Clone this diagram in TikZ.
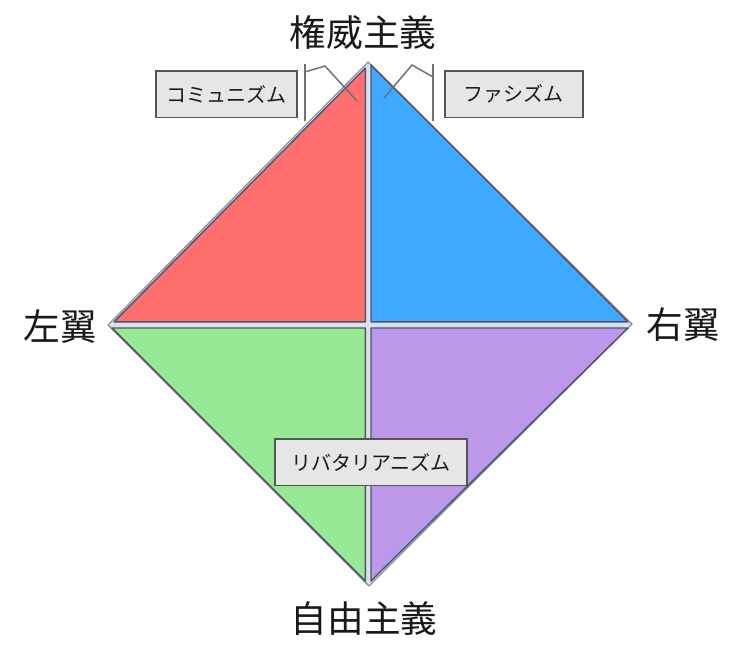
\documentclass[tikz,border=0pt]{standalone}
\usepackage{fontspec}
\newfontfamily\jp{Noto Sans CJK JP}
\definecolor{edge}{HTML}{4A5670}
\definecolor{gapc}{HTML}{DCE1E8}
\definecolor{redf}{HTML}{FF6F6F}
\definecolor{bluef}{HTML}{3FA8FF}
\definecolor{greenf}{HTML}{98E895}
\definecolor{purplef}{HTML}{BC98EA}
\definecolor{boxf}{HTML}{E7E6E6}
\definecolor{boxd}{HTML}{555555}
\definecolor{brk}{HTML}{707070}
\tikzset{
  tri/.style={draw=edge, line width=1.1pt, line join=round},
  bigtext/.style={font=\jp\fontsize{27.5}{31}\selectfont, text=black!90, inner sep=0pt},
  tagbox/.style={draw=boxd, fill=boxf, line width=1.2pt, font=\jp\fontsize{15}{18}\selectfont, text=black!90, minimum height=35pt, inner sep=0pt, anchor=north west},
  brline/.style={draw=brk, line width=1.1pt}
}
\begin{document}
\begin{tikzpicture}[x=0.75pt,y=-0.75pt]
\useasboundingbox (0,0) rectangle (750,666);
% outer diamond
\coordinate (T) at (368,62);
\coordinate (L) at (108,325);
\coordinate (R) at (632,324);
\coordinate (B) at (369,586);
\filldraw[fill=gapc, draw=edge!70, line width=0.8pt, line join=round] (T) -- (R) -- (B) -- (L) -- cycle;
% triangles
\filldraw[tri, fill=redf] (365.3,68) -- (114,321.8) -- (365.3,321.8) -- cycle;
\filldraw[tri, fill=bluef] (371,65) -- (628,321.8) -- (371,321.8) -- cycle;
\filldraw[tri, fill=greenf] (365.3,328) -- (112,328) -- (365.3,581) -- cycle;
\filldraw[tri, fill=purplef] (371,328) -- (628,328) -- (371,581) -- cycle;
% labels
\node[bigtext] (auth) at (363,33) {権威主義};
\node[bigtext] (left) at (60,327) {左翼};
\node[bigtext] (right) at (683,325) {右翼};
\node[bigtext] (lib) at (364,619) {自由主義};
% boxes
\node[tagbox, minimum width=106pt] (comm) at (155,70) {コミュニズム};
\node[tagbox, minimum width=103.5pt] (fasc) at (444,70) {ファシズム};
\node[tagbox, minimum width=144pt] (libt) at (274,438) {リバタリアニズム};
% brackets
\coordinate (lb1) at (305,64);
\coordinate (lb2) at (305,121);
\coordinate (lk1) at (305,72);
\coordinate (lk2) at (325,66);
\coordinate (lk3) at (357,101);
\coordinate (rb1) at (433,64);
\coordinate (rb2) at (433,121);
\coordinate (rk1) at (433,77);
\coordinate (rk2) at (412,65);
\coordinate (rk3) at (384,98);
\draw[brline] (lb1) -- (lb2);
\draw[brline] (lk1) -- (lk2) -- (lk3);
\draw[brline] (rb1) -- (rb2);
\draw[brline] (rk1) -- (rk2) -- (rk3);
\end{tikzpicture}
\end{document}
